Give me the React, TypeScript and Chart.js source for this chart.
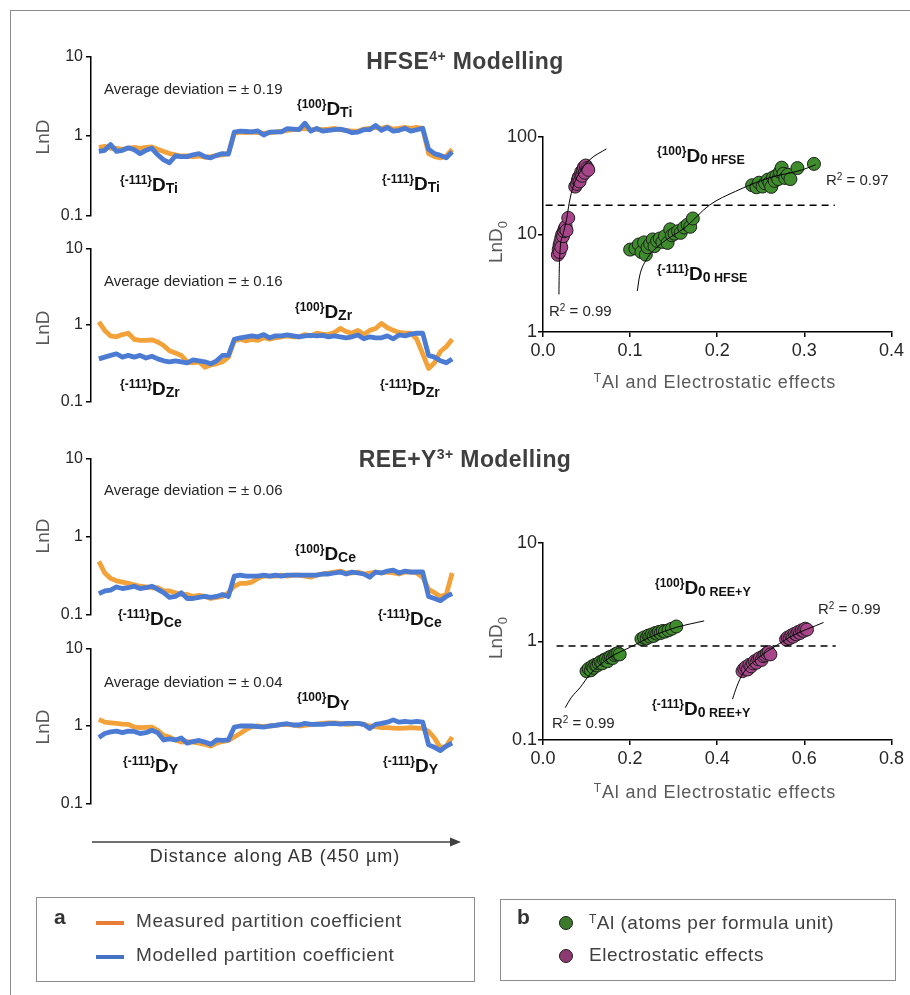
import React, { useEffect, useRef } from 'react';
import { Chart, registerables } from 'chart.js';

Chart.register(...registerables);

const FONT = "'Liberation Sans', Arial, Helvetica, sans-serif";
Chart.defaults.font.family = FONT;
Chart.defaults.color = '#262626';

// ---------- Left panels: distance along AB (µm) ----------
const DIST = [0, 7.5, 15, 22.5, 30, 37.5, 45, 52.5, 60, 67.5, 75, 82.5, 90, 97.5, 105, 112.5, 120, 127.5, 135, 142.5, 150, 157.5, 165, 172.5, 180, 187.5, 195, 202.5, 210, 217.5, 225, 232.5, 240, 247.5, 255, 262.5, 270, 277.5, 285, 292.5, 300, 307.5, 315, 322.5, 330, 337.5, 345, 352.5, 360, 367.5, 375, 382.5, 390, 397.5, 405, 412.5, 420, 427.5, 435, 442.5, 450];

const TI_MEASURED = [0.72, 0.74, 0.70, 0.70, 0.68, 0.70, 0.72, 0.70, 0.72, 0.73, 0.68, 0.64, 0.60, 0.58, 0.56, 0.56, 0.55, 0.56, 0.54, 0.55, 0.57, 0.58, 0.60, 1.08, 1.12, 1.10, 1.12, 1.10, 1.08, 1.10, 1.12, 1.14, 1.18, 1.20, 1.22, 1.25, 1.20, 1.22, 1.20, 1.22, 1.25, 1.20, 1.18, 1.15, 1.15, 1.22, 1.25, 1.28, 1.25, 1.30, 1.22, 1.25, 1.28, 1.25, 1.28, 1.25, 0.60, 0.55, 0.53, 0.56, 0.68];
const TI_MODELLED = [0.64, 0.66, 0.78, 0.64, 0.66, 0.71, 0.67, 0.60, 0.66, 0.70, 0.58, 0.50, 0.46, 0.56, 0.55, 0.55, 0.58, 0.60, 0.55, 0.53, 0.57, 0.60, 0.59, 1.12, 1.15, 1.14, 1.13, 1.16, 1.03, 1.12, 1.13, 1.13, 1.24, 1.22, 1.20, 1.45, 1.15, 1.25, 1.15, 1.18, 1.20, 1.22, 1.17, 1.10, 1.12, 1.20, 1.20, 1.36, 1.18, 1.28, 1.15, 1.18, 1.25, 1.15, 1.20, 1.25, 0.68, 0.60, 0.57, 0.53, 0.63];

const ZR_MEASURED = [1.10, 0.85, 0.72, 0.70, 0.75, 0.78, 0.65, 0.63, 0.63, 0.64, 0.60, 0.54, 0.46, 0.43, 0.40, 0.33, 0.32, 0.33, 0.28, 0.30, 0.31, 0.33, 0.38, 0.62, 0.65, 0.62, 0.65, 0.63, 0.68, 0.65, 0.68, 0.70, 0.72, 0.70, 0.70, 0.75, 0.72, 0.78, 0.76, 0.75, 0.80, 0.90, 0.82, 0.78, 0.85, 0.75, 0.85, 0.90, 1.05, 0.92, 0.85, 0.80, 0.78, 0.78, 0.65, 0.42, 0.27, 0.32, 0.45, 0.52, 0.65];
const ZR_MODELLED = [0.36, 0.38, 0.40, 0.42, 0.38, 0.40, 0.38, 0.40, 0.37, 0.39, 0.36, 0.34, 0.33, 0.34, 0.33, 0.32, 0.35, 0.34, 0.33, 0.31, 0.34, 0.40, 0.40, 0.65, 0.68, 0.70, 0.72, 0.70, 0.75, 0.68, 0.72, 0.72, 0.74, 0.72, 0.70, 0.72, 0.73, 0.72, 0.73, 0.70, 0.72, 0.70, 0.68, 0.70, 0.74, 0.66, 0.70, 0.68, 0.68, 0.72, 0.66, 0.74, 0.72, 0.76, 0.78, 0.78, 0.40, 0.38, 0.34, 0.32, 0.36];

const CE_MEASURED = [0.48, 0.34, 0.29, 0.27, 0.26, 0.25, 0.24, 0.23, 0.225, 0.22, 0.22, 0.20, 0.20, 0.19, 0.18, 0.18, 0.17, 0.175, 0.17, 0.16, 0.165, 0.17, 0.19, 0.23, 0.25, 0.25, 0.26, 0.29, 0.31, 0.31, 0.31, 0.32, 0.31, 0.32, 0.32, 0.31, 0.30, 0.32, 0.33, 0.34, 0.35, 0.36, 0.34, 0.34, 0.35, 0.33, 0.34, 0.35, 0.34, 0.35, 0.34, 0.33, 0.35, 0.35, 0.34, 0.30, 0.21, 0.19, 0.17, 0.18, 0.34];
const CE_MODELLED = [0.185, 0.20, 0.205, 0.225, 0.215, 0.22, 0.23, 0.215, 0.22, 0.23, 0.21, 0.19, 0.165, 0.17, 0.19, 0.16, 0.16, 0.165, 0.17, 0.165, 0.17, 0.18, 0.17, 0.31, 0.32, 0.31, 0.31, 0.31, 0.32, 0.31, 0.32, 0.31, 0.32, 0.32, 0.32, 0.32, 0.32, 0.32, 0.33, 0.33, 0.34, 0.35, 0.33, 0.35, 0.34, 0.33, 0.30, 0.35, 0.34, 0.36, 0.37, 0.34, 0.36, 0.35, 0.35, 0.35, 0.17, 0.16, 0.15, 0.17, 0.185];

const Y_MEASURED = [1.22, 1.12, 1.10, 1.08, 1.06, 1.05, 0.97, 0.95, 0.96, 0.97, 0.88, 0.76, 0.72, 0.66, 0.62, 0.63, 0.62, 0.60, 0.58, 0.55, 0.60, 0.63, 0.65, 0.72, 0.80, 0.90, 0.98, 1.00, 0.98, 1.00, 1.02, 1.04, 1.05, 1.03, 1.00, 1.02, 1.05, 1.06, 1.08, 1.10, 1.10, 1.08, 1.05, 1.06, 1.08, 1.05, 1.00, 0.98, 0.95, 0.95, 0.94, 0.93, 0.94, 0.95, 0.94, 0.93, 0.85, 0.70, 0.52, 0.55, 0.72];
const Y_MODELLED = [0.71, 0.80, 0.84, 0.86, 0.82, 0.86, 0.85, 0.80, 0.82, 0.88, 0.82, 0.66, 0.68, 0.66, 0.70, 0.60, 0.63, 0.65, 0.62, 0.58, 0.66, 0.65, 0.66, 0.97, 1.00, 1.00, 1.00, 0.98, 0.97, 1.00, 1.02, 1.05, 1.07, 1.03, 1.03, 1.08, 1.05, 1.06, 1.05, 1.07, 1.08, 1.06, 1.08, 1.08, 1.08, 1.05, 0.93, 1.05, 1.08, 1.12, 1.20, 1.12, 1.15, 1.12, 1.15, 1.12, 0.57, 0.53, 0.48, 0.55, 0.60];

const LEFT_YTICKS = [0.1, 1, 10];
const LEFT_YLABELS = ['0.1', '1', '10'];

// ---------- Right panel (HFSE) ----------
const HFSE_AL_X = [0.100, 0.106, 0.110, 0.113, 0.116, 0.118, 0.120, 0.123, 0.126, 0.128, 0.131, 0.134, 0.137, 0.140, 0.143, 0.146, 0.148, 0.151, 0.155, 0.158, 0.162, 0.166, 0.169, 0.172, 0.240, 0.245, 0.248, 0.252, 0.255, 0.258, 0.260, 0.262, 0.264, 0.266, 0.268, 0.270, 0.272, 0.274, 0.276, 0.278, 0.281, 0.284, 0.292, 0.311];
const HFSE_AL_Y = [7.0, 7.2, 7.9, 6.6, 8.3, 6.2, 7.4, 8.0, 8.9, 7.6, 8.6, 9.1, 8.4, 9.6, 8.2, 11.3, 9.8, 10.2, 10.8, 10.4, 11.8, 12.6, 12.0, 14.6, 32.0, 30.5, 34.0, 31.0, 33.5, 36.5, 34.0, 30.8, 38.5, 35.5, 40.0, 37.0, 44.0, 48.5, 42.0, 38.0, 41.0, 37.0, 48.0, 53.0];
const HFSE_ES_X = [0.017, 0.018, 0.019, 0.019, 0.020, 0.021, 0.021, 0.022, 0.023, 0.024, 0.025, 0.026, 0.027, 0.029, 0.037, 0.039, 0.040, 0.041, 0.042, 0.043, 0.044, 0.045, 0.046, 0.047, 0.048, 0.049, 0.051, 0.052];
const HFSE_ES_Y = [6.2, 7.0, 6.6, 7.8, 8.4, 9.2, 7.4, 10.0, 9.6, 10.8, 11.5, 12.0, 11.0, 14.8, 31.0, 33.0, 36.0, 38.5, 35.0, 41.0, 44.0, 40.0, 46.0, 49.0, 43.0, 51.0, 48.0, 46.0];
const HFSE_AL_FIT_X = [0.1082, 0.1109, 0.1185, 0.130, 0.164, 0.191, 0.221, 0.259, 0.2975, 0.313];
const HFSE_AL_FIT_Y = [2.63, 3.75, 5.5, 7.3, 12.0, 20.0, 27.7, 38.0, 46.0, 52.0];
const HFSE_ES_FIT_X = [0.0183, 0.0186, 0.0194, 0.0230, 0.0270, 0.0301, 0.0347, 0.0442, 0.0537, 0.0728];
const HFSE_ES_FIT_Y = [2.43, 4.0, 6.5, 10.0, 14.2, 21.1, 31.2, 46.3, 58.6, 75.6];
const HFSE_DASH_X = [0.003, 0.335];
const HFSE_DASH_Y = [20, 20];
const HFSE_XTICKS = [0, 0.1, 0.2, 0.3, 0.4];
const HFSE_XLABELS = ['0.0', '0.1', '0.2', '0.3', '0.4'];
const HFSE_YTICKS = [1, 10, 100];
const HFSE_YLABELS = ['1', '10', '100'];

// ---------- Right panel (REE+Y) ----------
const REE_AL_X = [0.100, 0.105, 0.110, 0.113, 0.116, 0.120, 0.124, 0.128, 0.132, 0.136, 0.140, 0.144, 0.148, 0.152, 0.156, 0.160, 0.164, 0.168, 0.172, 0.176, 0.226, 0.232, 0.238, 0.242, 0.246, 0.250, 0.254, 0.258, 0.262, 0.266, 0.270, 0.275, 0.280, 0.288, 0.296, 0.306];
const REE_AL_Y = [0.50, 0.53, 0.51, 0.56, 0.54, 0.58, 0.57, 0.60, 0.62, 0.60, 0.65, 0.66, 0.63, 0.69, 0.70, 0.68, 0.73, 0.75, 0.76, 0.74, 1.06, 1.10, 1.08, 1.15, 1.12, 1.18, 1.14, 1.22, 1.20, 1.25, 1.22, 1.28, 1.26, 1.30, 1.35, 1.42];
const REE_ES_X = [0.458, 0.462, 0.466, 0.470, 0.474, 0.478, 0.482, 0.486, 0.490, 0.494, 0.498, 0.502, 0.506, 0.510, 0.514, 0.518, 0.522, 0.558, 0.562, 0.566, 0.570, 0.574, 0.578, 0.582, 0.586, 0.590, 0.594, 0.598, 0.602, 0.606];
const REE_ES_Y = [0.50, 0.53, 0.55, 0.52, 0.58, 0.56, 0.60, 0.63, 0.61, 0.66, 0.68, 0.65, 0.71, 0.73, 0.76, 0.78, 0.74, 1.05, 1.10, 1.08, 1.15, 1.12, 1.20, 1.18, 1.25, 1.22, 1.30, 1.28, 1.35, 1.32];
const REE_AL_FIT_X = [0.051, 0.065, 0.085, 0.108, 0.154, 0.199, 0.252, 0.306, 0.370];
const REE_AL_FIT_Y = [0.213, 0.27, 0.34, 0.465, 0.69, 0.87, 1.14, 1.39, 1.62];
const REE_ES_FIT_X = [0.435, 0.445, 0.458, 0.496, 0.534, 0.572, 0.644];
const REE_ES_FIT_Y = [0.26, 0.35, 0.466, 0.69, 0.90, 1.14, 1.56];
const REE_DASH_X = [0.031, 0.672];
const REE_DASH_Y = [0.9, 0.9];
const REE_XTICKS = [0, 0.2, 0.4, 0.6, 0.8];
const REE_XLABELS = ['0.0', '0.2', '0.4', '0.6', '0.8'];
const REE_YTICKS = [0.1, 1, 10];
const REE_YLABELS = ['0.1', '1', '10'];

// ---------- styles ----------
const ORANGE = '#F3A23A';
const BLUE = '#4C7BD3';
const LEG_ORANGE = '#E97D35';
const LEG_BLUE = '#4472C4';
const GREEN = '#3E8C2C';
const MAGENTA = '#A8448A';
const LEG_GREEN = '#3A7A2A';
const LEG_MAGENTA = '#8E3A72';

const zip = (xs: number[], ys: number[]) => xs.map((x, i) => ({ x, y: ys[i] }));

function logAxis(ticks: number[], labels: string[], size: number, width: number, tickLen: number, pad: number) {
  return {
    type: 'logarithmic',
    min: ticks[0],
    max: ticks[ticks.length - 1],
    afterBuildTicks: (s: any) => { s.ticks = ticks.map((v) => ({ value: v })); },
    afterFit: (s: any) => { s.width = width; },
    ticks: { autoSkip: false, font: { size }, color: '#262626', padding: pad, callback: (_v: any, i: number) => labels[i] },
    grid: { drawOnChartArea: false, drawTicks: true, tickLength: tickLen, color: '#000', lineWidth: 1.5 },
    border: { display: true, color: '#000', width: 1.5 },
  };
}

function leftConfig(measured: number[], modelled: number[]): any {
  return {
    type: 'line',
    data: {
      datasets: [
        { label: 'Modelled partition coefficient', data: zip(DIST, modelled), borderColor: BLUE, borderWidth: 4.8, pointRadius: 0, order: 0, borderJoinStyle: 'round', tension: 0 },
        { label: 'Measured partition coefficient', data: zip(DIST, measured), borderColor: ORANGE, borderWidth: 4.8, pointRadius: 0, order: 1, borderJoinStyle: 'round', tension: 0 },
      ],
    },
    options: {
      animation: false,
      responsive: false,
      events: [],
      layout: { padding: { top: 10, bottom: 10, left: 0, right: 0 } },
      plugins: { legend: { display: false }, tooltip: { enabled: false } },
      scales: {
        x: { type: 'linear', min: -10, max: 460, display: false },
        y: logAxis(LEFT_YTICKS, LEFT_YLABELS, 16, 71, 5, 3),
      },
    },
  };
}

function rightConfig(p: {
  alX: number[]; alY: number[]; esX: number[]; esY: number[];
  alFitX: number[]; alFitY: number[]; esFitX: number[]; esFitY: number[];
  dashX: number[]; dashY: number[];
  xTicks: number[]; xLabels: string[]; yTicks: number[]; yLabels: string[];
}): any {
  const line = (d: any[], extra: any = {}) => ({
    data: d, showLine: true, borderColor: '#000', borderWidth: 1, pointRadius: 0,
    cubicInterpolationMode: 'monotone', order: 0, ...extra,
  });
  return {
    type: 'scatter',
    data: {
      datasets: [
        line(zip(p.alFitX, p.alFitY), { label: 'TAl fit' }),
        line(zip(p.esFitX, p.esFitY), { label: 'Electrostatic fit' }),
        line(zip(p.dashX, p.dashY), { label: 'Divide', borderDash: [7, 5], borderWidth: 1.5, cubicInterpolationMode: 'default' }),
        { label: 'TAl (atoms per formula unit)', data: zip(p.alX, p.alY), backgroundColor: GREEN, borderColor: '#1e1e1e', borderWidth: 1, pointRadius: 6.5, order: 1 },
        { label: 'Electrostatic effects', data: zip(p.esX, p.esY), backgroundColor: MAGENTA, borderColor: '#1e1e1e', borderWidth: 1, pointRadius: 6.5, order: 1 },
      ],
    },
    options: {
      animation: false,
      responsive: false,
      events: [],
      layout: { padding: { top: 12, bottom: 0, left: 0, right: 14 } },
      plugins: { legend: { display: false }, tooltip: { enabled: false } },
      scales: {
        x: {
          type: 'linear',
          min: p.xTicks[0],
          max: p.xTicks[p.xTicks.length - 1],
          afterBuildTicks: (s: any) => { s.ticks = p.xTicks.map((v) => ({ value: v })); },
          afterFit: (s: any) => { s.height = 30; },
          ticks: { autoSkip: false, maxRotation: 0, font: { size: 18 }, color: '#262626', padding: 3, callback: (_v: any, i: number) => p.xLabels[i] },
          grid: { drawOnChartArea: false, drawTicks: true, tickLength: 5, color: '#000', lineWidth: 1.5 },
          border: { display: true, color: '#000', width: 1.5 },
        },
        y: logAxis(p.yTicks, p.yLabels, 18, 73, 5, 1),
      },
    },
  };
}

function ChartBox({ left, top, width, height, config }: { left: number; top: number; width: number; height: number; config: () => any }) {
  const ref = useRef<HTMLCanvasElement | null>(null);
  useEffect(() => {
    if (!ref.current) return;
    const cfg = config();
    const chart = new Chart(ref.current, { ...cfg, options: { ...cfg.options, devicePixelRatio: 1 } });
    return () => chart.destroy();
  }, []);
  return (
    <canvas ref={ref} width={width} height={height}
      style={{ position: 'absolute', left, top, width, height }} />
  );
}

const abs = (left: number, top: number, extra: React.CSSProperties = {}): React.CSSProperties => ({
  position: 'absolute', left, top, fontFamily: FONT, whiteSpace: 'nowrap', ...extra,
});

function Txt({ x, y, size, color = '#262626', bold = false, center = false, ls = 0, children }: any) {
  return (
    <div style={abs(x, y, { fontSize: size, lineHeight: `${size}px`, color, fontWeight: bold ? 700 : 400, letterSpacing: ls, transform: center ? 'translateX(-50%)' : undefined })}>
      {children}
    </div>
  );
}

function Sup({ size, up, children }: any) {
  return <span style={{ fontSize: size, position: 'relative', top: -up, lineHeight: 0 }}>{children}</span>;
}

function DLabel({ x, y, face, sub, sub2 }: { x: number; y: number; face: string; sub: string; sub2?: string }) {
  return (
    <div style={abs(x, y, { fontSize: 19, lineHeight: '19px', fontWeight: 700, color: '#111' })}>
      <Sup size={12} up={7}>{face}</Sup>D<Sup size={14} up={-2}>{sub}</Sup>
      {sub2 ? <Sup size={12.5} up={-2}>{'\u00a0' + sub2}</Sup> : null}
    </div>
  );
}

function Rot({ cx, cy, children }: any) {
  return (
    <div style={abs(cx, cy, { fontSize: 19, lineHeight: '19px', color: '#595959', transform: 'translate(-50%, -50%) rotate(-90deg)' })}>
      {children}
    </div>
  );
}

export default function App() {
  const left = [
    { top: 44, h: 184, m: TI_MEASURED, d: TI_MODELLED },
    { top: 236, h: 178, m: ZR_MEASURED, d: ZR_MODELLED },
    { top: 446, h: 181, m: CE_MEASURED, d: CE_MODELLED },
    { top: 636, h: 180, m: Y_MEASURED, d: Y_MODELLED },
  ];
  return (
    <div style={{ position: 'absolute', left: 0, top: 0, width: 910, height: 995, overflow: 'hidden', background: '#fff' }}>
      <div style={{ position: 'absolute', left: 10, top: 10, width: 1000, height: 1100, border: '1.5px solid #8c8c8c' }} />

      {left.map((c, i) => (
        <ChartBox key={i} left={20} top={c.top} width={440} height={c.h} config={() => leftConfig(c.m, c.d)} />
      ))}

      <ChartBox left={470} top={125} width={437} height={237} config={() => rightConfig({
        alX: HFSE_AL_X, alY: HFSE_AL_Y, esX: HFSE_ES_X, esY: HFSE_ES_Y,
        alFitX: HFSE_AL_FIT_X, alFitY: HFSE_AL_FIT_Y, esFitX: HFSE_ES_FIT_X, esFitY: HFSE_ES_FIT_Y,
        dashX: HFSE_DASH_X, dashY: HFSE_DASH_Y,
        xTicks: HFSE_XTICKS, xLabels: HFSE_XLABELS, yTicks: HFSE_YTICKS, yLabels: HFSE_YLABELS,
      })} />
      <ChartBox left={470} top={531} width={437} height={239} config={() => rightConfig({
        alX: REE_AL_X, alY: REE_AL_Y, esX: REE_ES_X, esY: REE_ES_Y,
        alFitX: REE_AL_FIT_X, alFitY: REE_AL_FIT_Y, esFitX: REE_ES_FIT_X, esFitY: REE_ES_FIT_Y,
        dashX: REE_DASH_X, dashY: REE_DASH_Y,
        xTicks: REE_XTICKS, xLabels: REE_XLABELS, yTicks: REE_YTICKS, yLabels: REE_YLABELS,
      })} />

      {/* headers */}
      <Txt x={465} y={50} size={23} bold center ls={0.4} color="#3f3f3f">HFSE<Sup size={14} up={8}>4+</Sup> Modelling</Txt>
      <Txt x={465} y={448} size={23} bold center ls={0.4} color="#3f3f3f">REE+Y<Sup size={14} up={8}>3+</Sup>{'\u00a0'}Modelling</Txt>

      {/* left axis titles */}
      <Rot cx={42} cy={137}>LnD</Rot>
      <Rot cx={42} cy={328}>LnD</Rot>
      <Rot cx={42} cy={536}>LnD</Rot>
      <Rot cx={42} cy={727}>LnD</Rot>

      {/* average deviations */}
      <Txt x={104} y={81} size={15}>Average deviation = ± 0.19</Txt>
      <Txt x={104} y={273} size={15}>Average deviation = ± 0.16</Txt>
      <Txt x={104} y={482} size={15}>Average deviation = ± 0.06</Txt>
      <Txt x={104} y={674} size={15}>Average deviation = ± 0.04</Txt>

      {/* face labels */}
      <DLabel x={297} y={99} face="{100}" sub="Ti" />
      <DLabel x={120} y={175} face="{-111}" sub="Ti" />
      <DLabel x={382} y={174} face="{-111}" sub="Ti" />
      <DLabel x={295} y={302} face="{100}" sub="Zr" />
      <DLabel x={120} y={379} face="{-111}" sub="Zr" />
      <DLabel x={380} y={379} face="{-111}" sub="Zr" />
      <DLabel x={295} y={544} face="{100}" sub="Ce" />
      <DLabel x={118} y={609} face="{-111}" sub="Ce" />
      <DLabel x={378} y={609} face="{-111}" sub="Ce" />
      <DLabel x={297} y={692} face="{100}" sub="Y" />
      <DLabel x={123} y={756} face="{-111}" sub="Y" />
      <DLabel x={383} y={756} face="{-111}" sub="Y" />

      {/* distance arrow */}
      <svg style={{ position: 'absolute', left: 0, top: 0 }} width={910} height={995}>
        <line x1={92} y1={842} x2={452} y2={842} stroke="#404040" strokeWidth={1.5} />
        <polygon points="461,842 450,837.5 450,846.5" fill="#404040" />
      </svg>
      <Txt x={275} y={847} size={18} center ls={1} color="#333">Distance along AB (450 µm)</Txt>

      {/* right panels text */}
      <Rot cx={495} cy={242}>LnD<Sup size={13} up={-5}>0</Sup></Rot>
      <Rot cx={495} cy={638}>LnD<Sup size={13} up={-5}>0</Sup></Rot>
      <Txt x={715} y={373} size={18} center ls={0.8} color="#595959"><Sup size={12} up={6}>T</Sup>Al and Electrostatic effects</Txt>
      <Txt x={715} y={783} size={18} center ls={0.8} color="#595959"><Sup size={12} up={6}>T</Sup>Al and Electrostatic effects</Txt>

      <DLabel x={657} y={146} face="{100}" sub="0" sub2="HFSE" />
      <DLabel x={657} y={264} face="{-111}" sub="0" sub2="HFSE" />
      <DLabel x={655} y={578} face="{100}" sub="0" sub2="REE+Y" />
      <DLabel x={652} y={699} face="{-111}" sub="0" sub2="REE+Y" />

      <Txt x={826} y={172} size={15}>R<Sup size={10} up={5}>2</Sup> = 0.97</Txt>
      <Txt x={549} y={303} size={15}>R<Sup size={10} up={5}>2</Sup> = 0.99</Txt>
      <Txt x={818} y={601} size={15}>R<Sup size={10} up={5}>2</Sup> = 0.99</Txt>
      <Txt x={552} y={715} size={15}>R<Sup size={10} up={5}>2</Sup> = 0.99</Txt>

      {/* legend a */}
      <div style={{ position: 'absolute', left: 36, top: 897, width: 439, height: 85, border: '1.5px solid #8c8c8c', boxSizing: 'border-box' }} />
      <Txt x={54} y={906} size={21} bold color="#333">a</Txt>
      <div style={{ position: 'absolute', left: 96, top: 921, width: 28, height: 4, background: LEG_ORANGE }} />
      <div style={{ position: 'absolute', left: 96, top: 955, width: 28, height: 4, background: LEG_BLUE }} />
      <Txt x={136} y={911} size={19} ls={0.6} color="#404040">Measured partition coefficient</Txt>
      <Txt x={136} y={945} size={19} ls={0.6} color="#404040">Modelled partition coefficient</Txt>

      {/* legend b */}
      <div style={{ position: 'absolute', left: 500, top: 899, width: 396, height: 82, border: '1.5px solid #8c8c8c', boxSizing: 'border-box' }} />
      <Txt x={517} y={906} size={21} bold color="#333">b</Txt>
      <div style={{ position: 'absolute', left: 559, top: 916, width: 14, height: 14, borderRadius: '50%', background: LEG_GREEN, border: '1.2px solid #1e1e1e', boxSizing: 'border-box' }} />
      <div style={{ position: 'absolute', left: 559, top: 949, width: 14, height: 14, borderRadius: '50%', background: LEG_MAGENTA, border: '1.2px solid #1e1e1e', boxSizing: 'border-box' }} />
      <Txt x={589} y={913} size={19} ls={0.5} color="#404040"><Sup size={12} up={6}>T</Sup>Al (atoms per formula unit)</Txt>
      <Txt x={589} y={945} size={19} ls={0.5} color="#404040">Electrostatic effects</Txt>
    </div>
  );
}
